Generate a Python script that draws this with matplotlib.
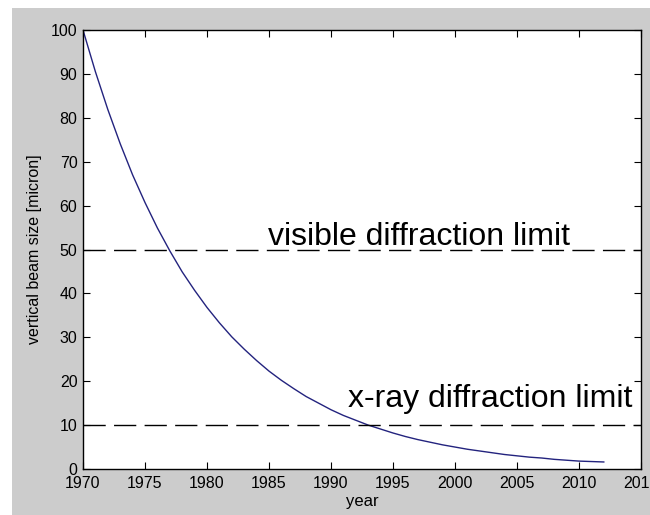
import matplotlib
matplotlib.use("Agg")
import matplotlib.pyplot as plt
from matplotlib.patches import Rectangle

# beam size, one value per year
years = list(range(1970, 2013))
beam_size = [100, 90.5, 81.9, 74.1, 67.0, 60.7, 54.9, 49.7, 44.9, 40.7,
             36.8, 33.3, 30.1, 27.3, 24.7, 22.3, 20.2, 18.3, 16.5, 15.0,
             13.5, 12.2, 11.1, 10.0, 9.1, 8.2, 7.4, 6.7, 6.1, 5.5,
             5.0, 4.5, 4.1, 3.7, 3.3, 3.0, 2.7, 2.5, 2.2, 2.0,
             1.8, 1.7, 1.6]

visible_limit = 50
xray_limit = 10
x_ticks = [1970, 1975, 1980, 1985, 1990, 1995, 2000, 2005, 2010, 2015]
y_ticks = [0, 10, 20, 30, 40, 50, 60, 70, 80, 90, 100]

plt.rcParams['font.family'] = ['Liberation Sans', 'DejaVu Sans']

fig = plt.figure(figsize=(6.5, 5.15), dpi=100, facecolor='white')
# gray window area, white strip on top and left
fig.patches.append(Rectangle((12 / 650, 0), 1, 1 - 8 / 515, transform=fig.transFigure,
                             facecolor='#cccccc', edgecolor='none', zorder=-1))

ax = fig.add_axes([83 / 650, 46 / 515, 558 / 650, 439 / 515])
ax.set_facecolor('white')

ax.plot(years, beam_size, color='#23237e', lw=1.0)
ax.plot([1970, 2015], [visible_limit, visible_limit], color='black', lw=1.0,
        dashes=(16, 6))
ax.plot([1970, 2015], [xray_limit, xray_limit], color='black', lw=1.0,
        dashes=(16, 6))

ax.text(1984.9, 51.0, 'visible diffraction limit', fontsize=23, va='baseline')
ax.text(1991.4, 14.1, 'x-ray diffraction limit', fontsize=23, va='baseline')

ax.set_xlim(1970, 2015)
ax.set_ylim(0, 100)
ax.set_xticks(x_ticks)
ax.set_yticks(y_ticks)
ax.tick_params(direction='in', top=True, right=True, length=5, width=0.8,
               labelsize=11.5)
ax.tick_params(axis='x', pad=5)
ax.tick_params(axis='y', pad=4)
for s in ax.spines.values():
    s.set_linewidth(1.0)

ax.set_xlabel('year', fontsize=12, labelpad=2)
ax.set_ylabel('vertical beam size [micron]', fontsize=11.5, labelpad=6)

fig.savefig('out.png', dpi=100, facecolor=fig.get_facecolor())
